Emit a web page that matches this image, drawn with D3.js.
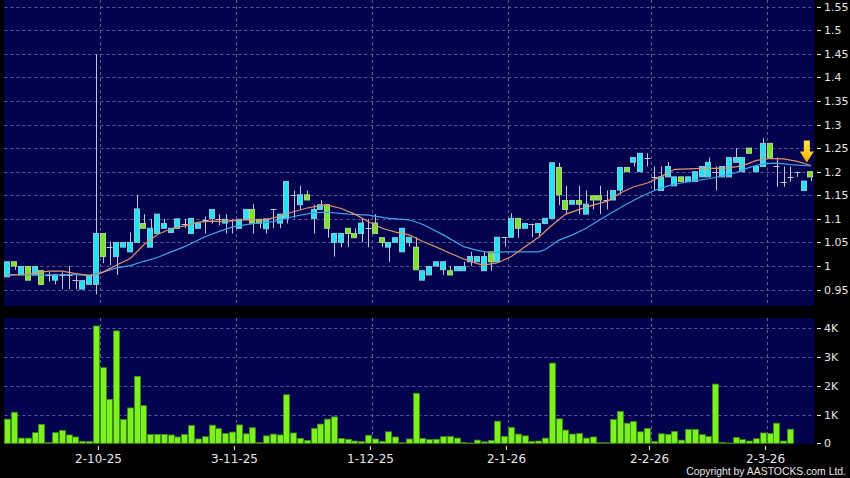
<!DOCTYPE html>
<html><head><meta charset="utf-8">
<script src="https://cdn.jsdelivr.net/npm/d3@7"></script>
<style>html,body{margin:0;padding:0;background:#000;}svg{display:block;}</style>
</head><body>
<script>
// ---- data ----
const opens = [.977,1.009,.981,.999,.981,.990,.981,.970,.981,.981,
.970,.951,.961,.961,1.069,1.041,1.020,1.040,1.030,1.050,
1.090,1.040,1.069,1.080,1.071,1.080,1.090,1.069,1.080,1.098,
1.101,1.099,1.091,1.098,1.080,1.099,1.120,1.099,1.079,1.120,
1.091,1.101,1.151,1.130,1.151,1.101,1.120,1.130,1.050,1.050,
1.080,1.069,1.069,1.080,1.091,1.060,1.040,1.050,1.030,1.050,
1.040,.970,.981,1.000,.992,.990,.990,.990,1.009,1.009,
.990,1.030,1.009,1.061,1.061,1.101,1.080,1.090,1.071,1.090,
1.101,1.209,1.139,1.131,1.139,1.110,1.149,1.149,1.140,1.140,
1.161,1.209,1.220,1.200,1.230,1.189,1.160,1.189,1.170,1.189,
1.179,1.179,1.189,1.189,1.200,1.189,1.189,1.220,1.200,1.250,
1.200,1.211,1.260,1.211,1.179,1.189,1.200,1.160,1.200];
const closes = [1.009,1.000,.999,.970,.999,.961,.981,.981,.981,.981,
.970,.969,.980,1.069,1.020,1.041,1.050,1.050,1.050,1.121,
1.080,1.080,1.110,1.090,1.080,1.100,1.090,1.101,1.091,1.098,
1.120,1.099,1.099,1.098,1.099,1.120,1.091,1.091,1.100,1.120,
1.110,1.179,1.151,1.151,1.140,1.120,1.130,1.080,1.069,1.069,
1.069,1.060,1.091,1.080,1.069,1.050,1.050,1.060,1.080,1.061,
.992,.990,.999,1.009,1.009,.981,.999,.999,1.020,1.020,
1.020,1.009,1.061,1.061,1.101,1.080,1.090,1.090,1.090,1.101,
1.219,1.151,1.120,1.139,1.131,1.131,1.140,1.140,1.140,1.160,
1.209,1.200,1.230,1.239,1.230,1.189,1.189,1.211,1.189,1.179,
1.189,1.200,1.211,1.220,1.200,1.211,1.230,1.230,1.230,1.239,
1.211,1.260,1.230,1.211,1.179,1.189,1.200,1.180,1.189];
const highs = [1.009,1.009,.999,.999,.999,.992,.987,.981,.987,1.000,
.981,.969,.980,1.449,1.069,1.052,1.050,1.050,1.071,1.151,
1.110,1.100,1.110,1.100,1.080,1.100,1.100,1.101,1.091,1.105,
1.120,1.110,1.110,1.099,1.099,1.120,1.131,1.099,1.100,1.120,
1.110,1.179,1.160,1.170,1.160,1.130,1.140,1.130,1.069,1.069,
1.080,1.080,1.100,1.100,1.110,1.060,1.050,1.060,1.080,1.061,
1.061,.990,.999,1.009,1.009,1.000,.999,1.009,1.030,1.020,
1.030,1.030,1.061,1.061,1.112,1.101,1.090,1.090,1.090,1.101,
1.219,1.219,1.170,1.139,1.170,1.160,1.149,1.170,1.160,1.160,
1.209,1.209,1.230,1.239,1.239,1.211,1.211,1.220,1.189,1.189,
1.189,1.200,1.211,1.230,1.211,1.211,1.230,1.250,1.230,1.250,
1.211,1.271,1.260,1.230,1.211,1.211,1.200,1.180,1.200];
const lows = [.977,.992,.981,.970,.981,.961,.967,.961,.951,.951,
.951,.951,.961,.940,1.006,1.002,.981,1.040,1.030,1.050,
1.080,1.040,1.069,1.080,1.071,1.080,1.080,1.069,1.080,1.069,
1.090,1.087,1.069,1.069,1.080,1.099,1.069,1.080,1.069,1.080,
1.080,1.090,1.101,1.120,1.140,1.069,1.120,1.060,1.020,1.040,
1.040,1.060,1.050,1.040,1.069,1.040,1.009,1.050,1.030,1.041,
.992,.970,.981,1.000,.981,.981,.990,.990,1.000,1.009,
.990,.990,1.009,1.041,1.061,1.060,1.080,1.061,1.061,1.090,
1.101,1.129,1.110,1.131,1.110,1.110,1.120,1.110,1.120,1.140,
1.150,1.200,1.211,1.200,1.211,1.161,1.160,1.189,1.170,1.179,
1.179,1.179,1.189,1.189,1.160,1.189,1.189,1.220,1.200,1.239,
1.200,1.211,1.230,1.168,1.168,1.179,1.189,1.160,1.180];
// volume in K shares
const volumes = [0.84,1.08,0.18,0.18,0.37,0.66,0.03,0.37,0.45,0.29,
0.22,0.07,0.06,4.08,2.63,1.53,3.91,0.83,1.23,2.33,
1.31,0.31,0.31,0.31,0.29,0.22,0.31,0.62,0.15,0.23,
0.63,0.51,0.34,0.39,0.64,0.33,0.54,0.03,0.26,0.32,
0.29,1.69,0.36,0.17,0.10,0.52,0.67,0.84,0.92,0.17,
0.14,0.08,0.06,0.28,0.15,0.07,0.40,0.22,0.02,0.15,
1.74,0.17,0.13,0.14,0.23,0.24,0.18,0.03,0.01,0.11,
0.05,0.10,0.77,0.24,0.55,0.32,0.26,0.07,0.08,0.18,
2.79,0.85,0.46,0.32,0.34,0.18,0.22,0.02,0.02,0.83,
1.11,0.70,0.76,0.40,0.52,0.06,0.33,0.31,0.41,0.11,
0.48,0.48,0.30,0.24,2.06,0.03,0.01,0.20,0.13,0.08,
0.16,0.36,0.34,0.70,0.08,0.49,0,0,0];
// moving averages: [bar number (1-based), value]
const maShort = [[1,.980],[3,.982],[5,.985],[7,.989],[9,.989],[11,.984],[13,.980],[14,.981],[15,.987],[17,1.002],[19,1.016],[21,1.045],[23,1.067],[25,1.079],[27,1.085],[29,1.093],[31,1.095],[33,1.094],[35,1.098],[37,1.098],[39,1.098],[41,1.106],[43,1.115],[45,1.123],[47,1.128],[48,1.129],[50,1.122],[52,1.110],[54,1.094],[56,1.080],[58,1.072],[60,1.066],[62,1.052],[64,1.040],[66,1.027],[68,1.015],[70,1.005],[71,1.002],[73,1.007],[75,1.020],[77,1.041],[79,1.061],[81,1.087],[83,1.110],[85,1.120],[87,1.129],[89,1.137],[91,1.155],[93,1.168],[95,1.176],[97,1.190],[99,1.205],[101,1.206],[103,1.207],[105,1.207],[107,1.208],[109,1.213],[111,1.224],[113,1.228],[115,1.227],[117,1.222],[119,1.213]];
const maLong = [[1,.982],[5,.981],[10,.982],[13,.980],[15,.987],[17,.996],[19,1.001],[21,1.010],[23,1.018],[25,1.030],[27,1.041],[29,1.055],[30,1.062],[32,1.073],[34,1.083],[37,1.090],[40,1.094],[43,1.105],[46,1.113],[48,1.114],[51,1.110],[54,1.108],[57,1.101],[60,1.098],[62,1.088],[65,1.066],[68,1.041],[70,1.033],[72,1.028],[74,1.030],[76,1.030],[79,1.030],[80,1.035],[82,1.055],[84,1.066],[86,1.080],[88,1.098],[90,1.115],[92,1.132],[94,1.147],[96,1.160],[98,1.170],[100,1.176],[102,1.181],[104,1.185],[106,1.191],[108,1.198],[110,1.209],[112,1.217],[114,1.218],[116,1.215],[119,1.212]];
const priceTicks = [0.95,1,1.05,1.1,1.15,1.2,1.25,1.3,1.35,1.4,1.45,1.5,1.55];
const priceTickLabels = ["0.95","1","1.05","1.1","1.15","1.2","1.25","1.3","1.35","1.4","1.45","1.5","1.55"];
const volTicks = [0,1,2,3,4];
const volTickLabels = ["0","1K","2K","3K","4K"];
const dateLabels = ["2-10-25","3-11-25","1-12-25","2-1-26","2-2-26","2-3-26"];
const dateBars = [13,33,53,73,94,111]; // grid drawn after these bars (0-based)

// ---- layout ----
const W = 850, H = 478;
const L = 4.33, R = 814.5;
const N = opens.length;
const svg = d3.select("body").append("svg").attr("width", W).attr("height", H)
  .style("font-family", "'DejaVu Sans', sans-serif");
svg.append("rect").attr("width", W).attr("height", H).attr("fill", "#000");

const x = d3.scaleBand().domain(d3.range(N)).range([L, L + N * 6.806]).paddingInner(0);
const bw = x.bandwidth();
const cx = i => x(i) + bw / 2;
const y = d3.scaleLinear().domain([0.95, 1.55]).range([289.6, 6.6]);
const yv = d3.scaleLinear().domain([0, 4]).range([443.3, 328.3]);

const pTop = 0, pBot = 306, vTop = 318, vBot = 443.5;
svg.append("rect").attr("x", L - 0.3).attr("y", pTop).attr("width", R - L).attr("height", pBot - pTop).attr("fill", "#02024f");
svg.append("rect").attr("x", L - 0.3).attr("y", vTop).attr("width", R - L).attr("height", vBot - vTop).attr("fill", "#02024f");

const gridCol = "#5c5c96";
svg.append("g").selectAll("line").data(priceTicks).join("line")
  .attr("x1", L).attr("x2", R).attr("y1", d => Math.round(y(d)) + 0.5).attr("y2", d => Math.round(y(d)) + 0.5)
  .attr("stroke", gridCol).attr("stroke-dasharray", "3,3");
svg.append("g").selectAll("line").data(volTicks.slice(1)).join("line")
  .attr("x1", L).attr("x2", R).attr("y1", d => Math.round(yv(d)) + 0.5).attr("y2", d => Math.round(yv(d)) + 0.5)
  .attr("stroke", gridCol).attr("stroke-dasharray", "3,3");
const gx = i => Math.round(x(i) + bw) + 0.5;
svg.append("g").selectAll("line").data(dateBars).join("line")
  .attr("x1", gx).attr("x2", gx).attr("y1", pTop).attr("y2", pBot)
  .attr("stroke", gridCol).attr("stroke-dasharray", "3,3");
svg.append("g").selectAll("line").data(dateBars).join("line")
  .attr("x1", gx).attr("x2", gx).attr("y1", vTop).attr("y2", vBot)
  .attr("stroke", gridCol).attr("stroke-dasharray", "3,3");

// candles
const cg = svg.append("g");
const idx = d3.range(N);
const wickCol = "#c4c4d4";
cg.selectAll("line.wick").data(idx).join("line")
  .attr("x1", i => Math.round(cx(i)) + 0.5).attr("x2", i => Math.round(cx(i)) + 0.5)
  .attr("y1", i => y(highs[i])).attr("y2", i => y(lows[i]))
  .attr("stroke", wickCol).attr("stroke-width", 1);
const bodies = idx.filter(i => opens[i] !== closes[i]);
cg.selectAll("rect.body").data(bodies).join("rect")
  .attr("x", i => Math.round(x(i)) + 0.5).attr("width", Math.round(bw) - 2)
  .attr("y", i => y(Math.max(opens[i], closes[i])))
  .attr("height", i => Math.max(1, y(Math.min(opens[i], closes[i])) - y(Math.max(opens[i], closes[i]))))
  .attr("fill", i => closes[i] > opens[i] ? "#1ee4f4" : "#7ce22a")
  .attr("stroke", i => closes[i] > opens[i] ? "#8ac8d8" : "#a8d890").attr("stroke-width", 1);
const dojis = idx.filter(i => opens[i] === closes[i]);
cg.selectAll("line.doji").data(dojis).join("line")
  .attr("x1", i => Math.round(x(i)) + 0.5).attr("x2", i => Math.round(x(i)) + Math.round(bw) - 0.5)
  .attr("y1", i => Math.round(y(opens[i])) + 0.5).attr("y2", i => Math.round(y(opens[i])) + 0.5)
  .attr("stroke", wickCol);

// moving averages
const maLine = d3.line().x(d => cx(d[0] - 1)).y(d => y(d[1]));
svg.append("path").attr("d", maLine(maLong)).attr("fill", "none").attr("stroke", "#3fa4e8").attr("stroke-width", 1.2);
svg.append("path").attr("d", maLine(maShort)).attr("fill", "none").attr("stroke", "#e0946a").attr("stroke-width", 1.2);

// arrow at last MA point
const ax = cx(N - 1) - 4, ay = y(maShort[maShort.length - 1][1]) - 3;
const grad = svg.append("defs").append("linearGradient").attr("id", "ag").attr("x1", 0).attr("x2", 0).attr("y1", 0).attr("y2", 1);
grad.append("stop").attr("offset", "0").attr("stop-color", "#ffe84a");
grad.append("stop").attr("offset", "1").attr("stop-color", "#f4b000");
svg.append("path")
  .attr("d", `M${ax - 3},${ay - 22} L${ax + 3},${ay - 22} L${ax + 3},${ay - 11} L${ax + 7},${ay - 11} L${ax},${ay} L${ax - 7},${ay - 11} L${ax - 3},${ay - 11} Z`)
  .attr("fill", "url(#ag)");

// volume bars
svg.append("g").selectAll("rect").data(idx.filter(i => volumes[i] > 0)).join("rect")
  .attr("x", i => Math.round(x(i)) + 0.5).attr("width", Math.round(bw) - 1)
  .attr("y", i => yv(volumes[i])).attr("height", i => Math.max(0.5, yv(0) - yv(volumes[i])))
  .attr("fill", "#7df020").attr("stroke", "#3c8c14").attr("stroke-width", 0.8);

// axes (right)
const txtCol = "#e6e6e6";
const pa = svg.append("g");
pa.selectAll("line").data(priceTicks).join("line")
  .attr("x1", 817).attr("x2", 821).attr("y1", d => Math.round(y(d)) + 0.5).attr("y2", d => Math.round(y(d)) + 0.5)
  .attr("stroke", txtCol);
pa.selectAll("text").data(priceTicks).join("text")
  .attr("x", 824).attr("y", d => y(d) + 4).attr("fill", txtCol).attr("font-size", 11)
  .text((d, i) => priceTickLabels[i]);
const va = svg.append("g");
va.selectAll("line").data(volTicks).join("line")
  .attr("x1", 817).attr("x2", 821).attr("y1", d => Math.round(yv(d)) + 0.5).attr("y2", d => Math.round(yv(d)) + 0.5)
  .attr("stroke", txtCol);
va.selectAll("text").data(volTicks).join("text")
  .attr("x", 824).attr("y", d => yv(d) + 4).attr("fill", txtCol).attr("font-size", 11)
  .text((d, i) => volTickLabels[i]);

// date axis
const da = svg.append("g");
da.selectAll("line").data(dateBars).join("line")
  .attr("x1", i => gx(i) - 2).attr("x2", i => gx(i) - 2).attr("y1", 446).attr("y2", 450).attr("stroke", txtCol);
da.selectAll("text").data(dateBars).join("text")
  .attr("x", i => gx(i) - 2).attr("y", 463).attr("text-anchor", "middle").attr("fill", txtCol).attr("font-size", 12)
  .text((d, k) => dateLabels[k]);

svg.append("text").attr("x", 846).attr("y", 475).attr("text-anchor", "end").attr("fill", txtCol)
  .attr("font-size", 10.4).style("font-family", "'Liberation Sans', Arial, sans-serif").text("Copyright by AASTOCKS.com Ltd.");
</script>
</body></html>
